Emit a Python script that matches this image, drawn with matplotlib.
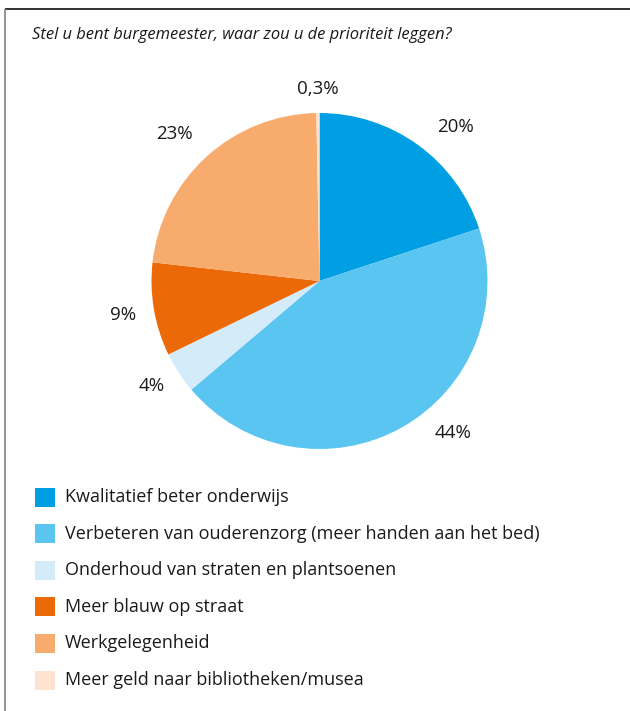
import matplotlib
matplotlib.use("Agg")
import matplotlib.pyplot as plt
from matplotlib.patches import Rectangle

categories = [
    "Kwalitatief beter onderwijs",
    "Verbeteren van ouderenzorg (meer handen aan het bed)",
    "Onderhoud van straten en plantsoenen",
    "Meer blauw op straat",
    "Werkgelegenheid",
    "Meer geld naar bibliotheken/musea",
]
values = [20, 44, 4, 9, 23, 0.3]
labels = ["20%", "44%", "4%", "9%", "23%", "0,3%"]
colors = ["#009FE3", "#5BC5F2", "#D4ECFA", "#EC6907", "#F7AC6E", "#FDE3D0"]
title = "Stel u bent burgemeester, waar zou u de prioriteit leggen?"

W, H = 630, 711
plt.rcParams['font.family'] = ['Open Sans', 'DejaVu Sans']
fig = plt.figure(figsize=(W / 100, H / 100), dpi=100)
ax = fig.add_axes([0, 0, 1, 1])
ax.set_xlim(0, W)
ax.set_ylim(0, H)
ax.set_aspect('equal')
ax.axis('off')

def Y(py):
    return H - py

# frame
ax.plot([5, W], [Y(9), Y(9)], color="#222222", lw=1.3, solid_capstyle='butt')
ax.plot([5, 5], [Y(9), 0], color="#8a8a8a", lw=1.3, solid_capstyle='butt')

ax.text(32, Y(35), title, fontsize=11.9, style='italic', color="#1a1a1a",
        va='center', ha='left')

cx, cy, r = 319.5, Y(281), 168
ax.pie(values, colors=colors, startangle=90, counterclock=False,
       center=(cx, cy), radius=r, frame=True,
       wedgeprops=dict(linewidth=0))
ax.set_xlim(0, W)
ax.set_ylim(0, H)
ax.axis('off')

label_pos = [(455, 127), (453, 433), (152, 386), (123, 315), (174, 134), (318, 89)]
for lab, (px, py) in zip(labels, label_pos):
    ax.text(px, Y(py), lab, fontsize=13.5, color="#1a1a1a", ha='center', va='center')

row0, step = 497, 36.6
for i, (cat, col) in enumerate(zip(categories, colors)):
    yc = row0 + i * step
    ax.add_patch(Rectangle((35, Y(yc + 9.5)), 20, 19, facecolor=col, edgecolor='none'))
    ax.text(65, Y(yc), cat, fontsize=13, color="#1a1a1a", ha='left', va='center')

fig.savefig("out.png", dpi=100)
